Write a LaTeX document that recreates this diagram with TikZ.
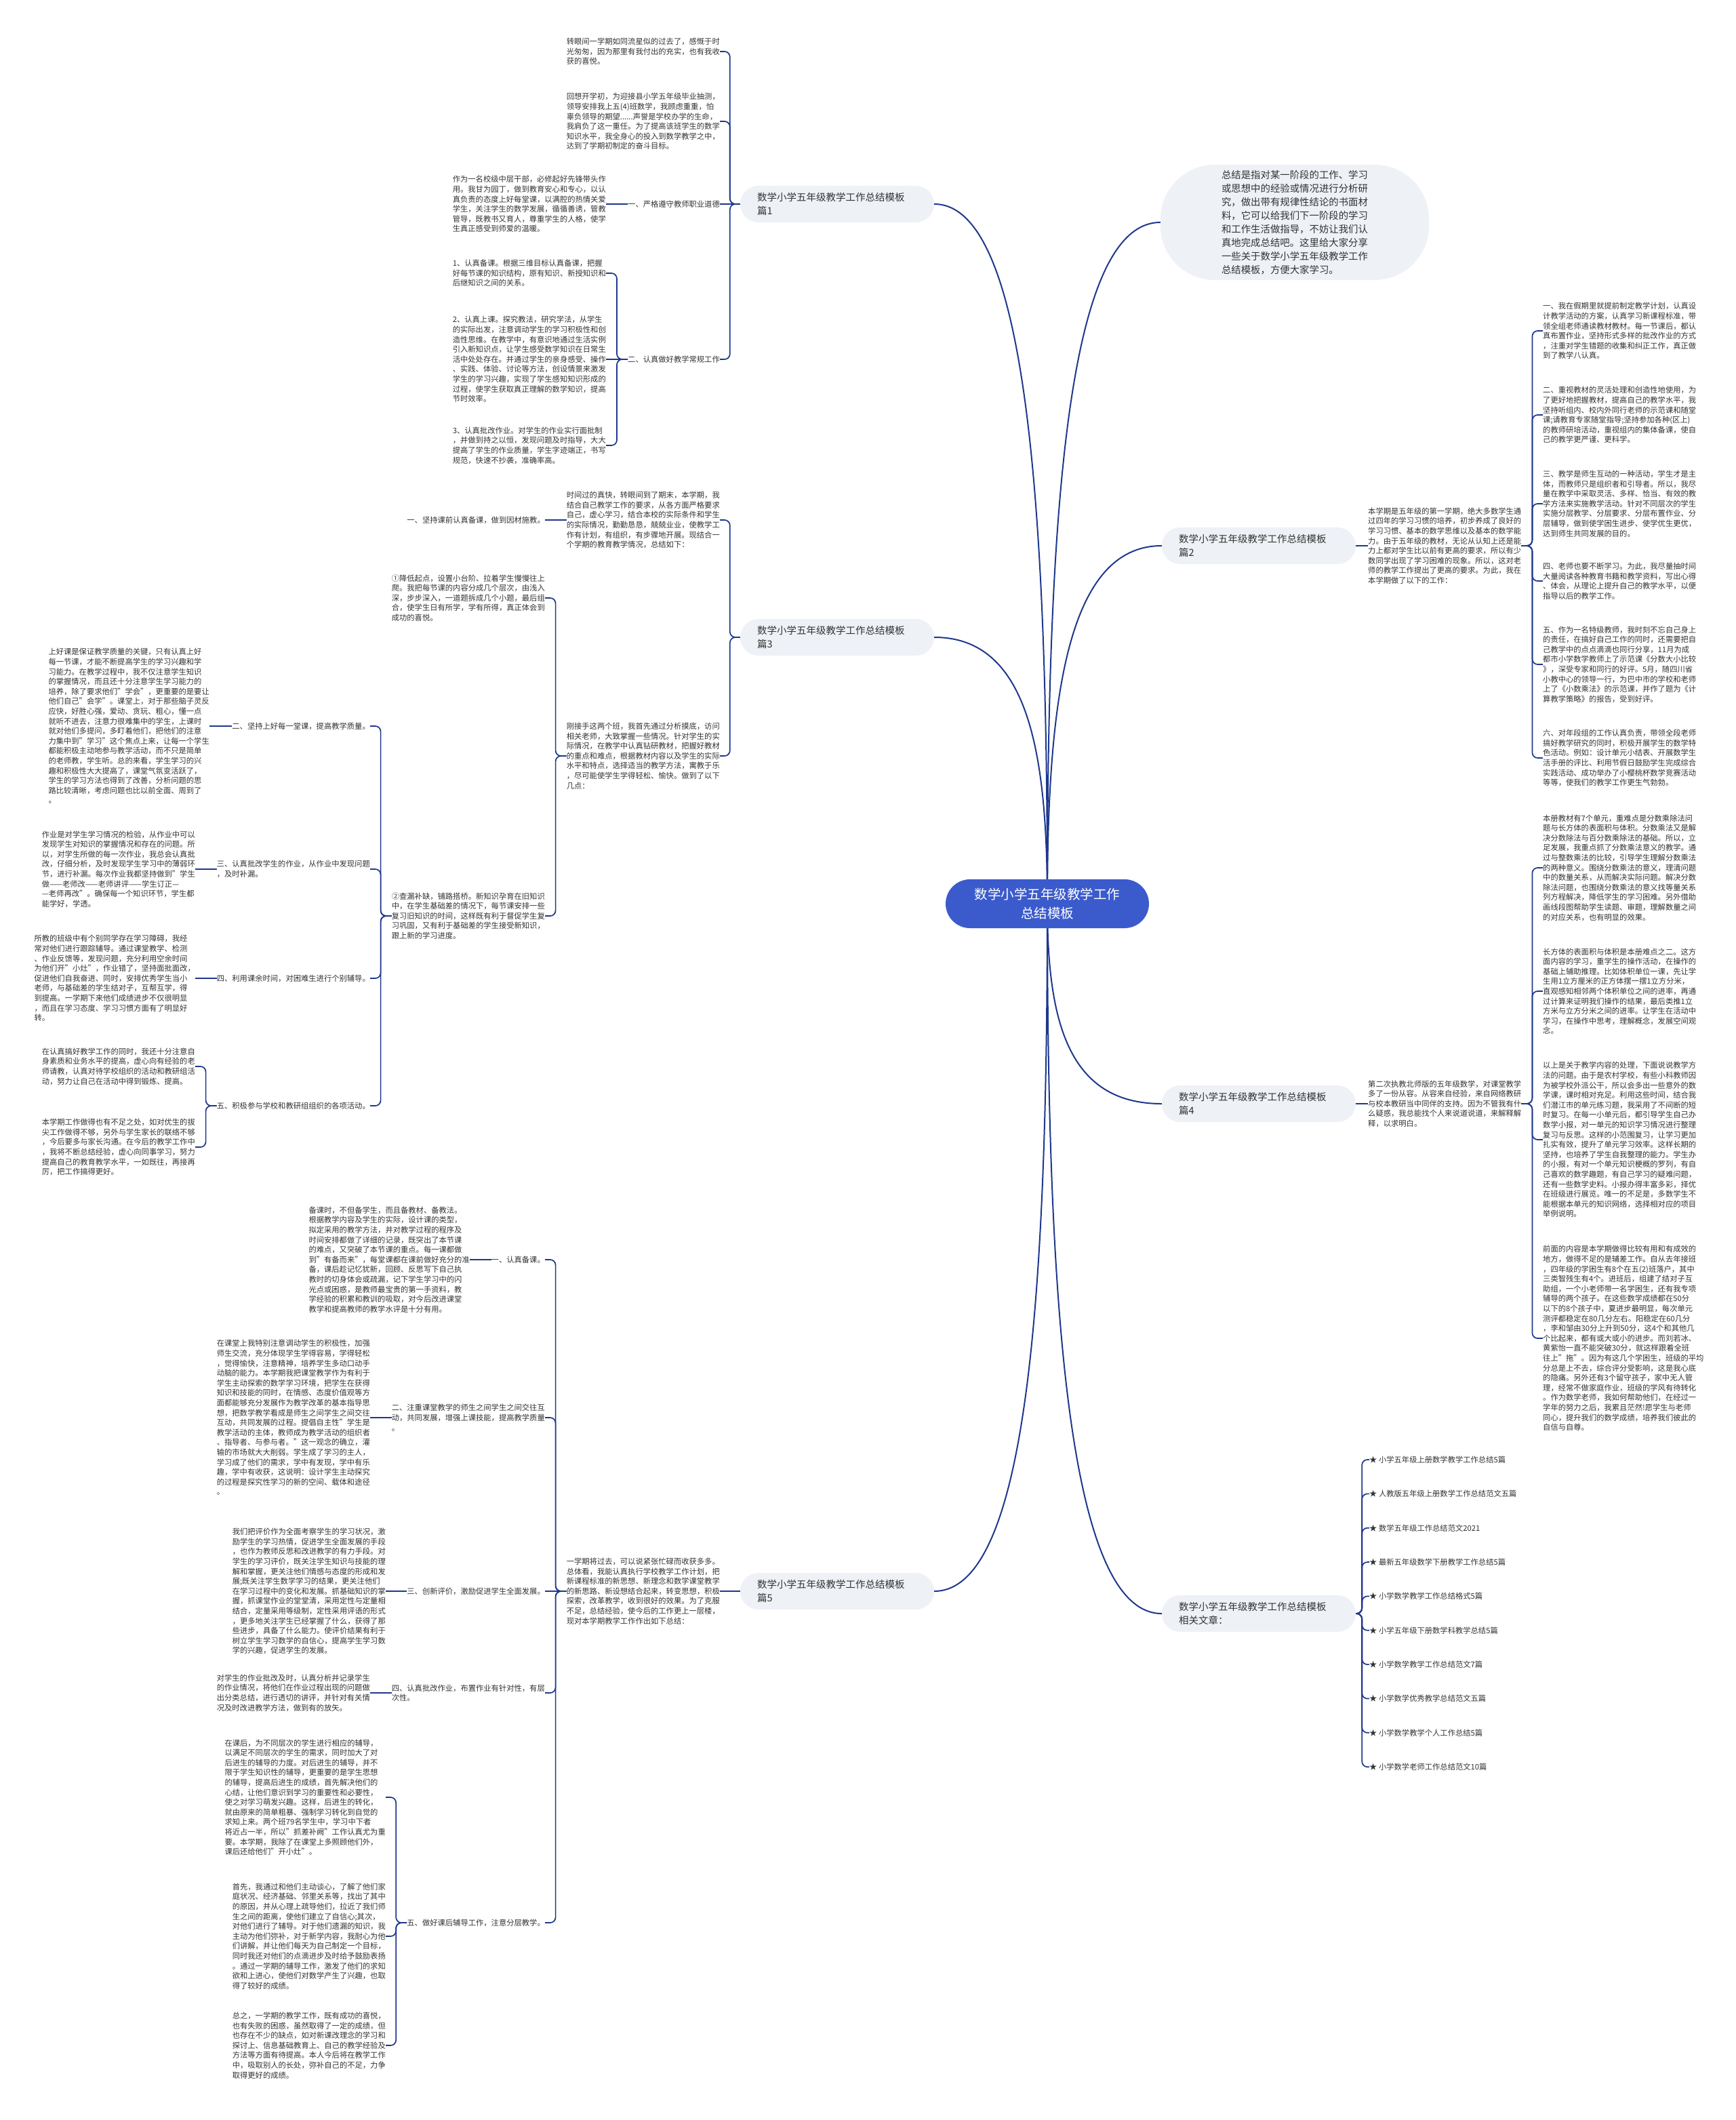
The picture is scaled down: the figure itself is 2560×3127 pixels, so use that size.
\documentclass[tikz,border=0pt]{standalone}
\usepackage{fontspec}
\setmainfont{Noto Sans CJK SC}
\usetikzlibrary{backgrounds}
\definecolor{linkblue}{RGB}{30,56,140}
\definecolor{rootblue}{RGB}{59,91,204}
\definecolor{pillgray}{RGB}{238,241,246}
\definecolor{inkgray}{RGB}{51,51,51}
\tikzset{
  txt/.style={font=\fontsize{11.3pt}{14.6pt}\selectfont,text=inkgray,align=left,inner sep=0pt},
  pill/.style={fill=pillgray,rounded corners=27pt,minimum width=286pt,minimum height=54pt,text width=236pt,inner xsep=25pt,inner ysep=0pt,align=left,text=inkgray,font=\fontsize{14.5pt}{20pt}\selectfont},
  root/.style={fill=rootblue,text=white,rounded corners=36pt,minimum width=300pt,minimum height=72pt,align=center,font=\fontsize{19.5pt}{28pt}\selectfont},
  limb/.style={draw=linkblue,line width=2pt},
  twig/.style={draw=linkblue,line width=1.7pt,rounded corners=8pt},
}
\begin{document}
\begin{tikzpicture}[x=1pt,y=-1pt]
  \useasboundingbox (0,0) rectangle (2560,3127);
  % centre and main branches
  \node[root] (ctr) at (1545,1333) {数学小学五年级教学工作\\总结模板};
  \node[pill] (b1) at (1235,301) {数学小学五年级教学工作总结模板\\篇1};
  \node[pill] (b3) at (1235,940) {数学小学五年级教学工作总结模板\\篇3};
  \node[pill] (b5) at (1235,2347) {数学小学五年级教学工作总结模板\\篇5};
  \node[pill] (b2) at (1857,805) {数学小学五年级教学工作总结模板\\篇2};
  \node[pill] (b4) at (1857,1628) {数学小学五年级教学工作总结模板\\篇4};
  \node[pill] (rel) at (1857,2380) {数学小学五年级教学工作总结模板\\相关文章：};
  \node[fill=pillgray,rounded corners=80pt,minimum width=396pt,minimum height=170pt,align=left,text=inkgray,font=\fontsize{14.4pt}{20pt}\selectfont] (sum) at (1910,328) {总结是指对某一阶段的工作、学习\\或思想中的经验或情况进行分析研\\究，做出带有规律性结论的书面材\\料，它可以给我们下一阶段的学习\\和工作生活做指导，不妨让我们认\\真地完成总结吧。这里给大家分享\\一些关于数学小学五年级教学工作\\总结模板，方便大家学习。};

  % 篇1
  \node[txt,anchor=east] (t1a) at (1062,76) {转眼间一学期如同流星似的过去了，感慨于时\\光匆匆，因为那里有我付出的充实，也有我收\\获的喜悦。};
  \node[txt,anchor=east] (t1b) at (1062,179) {回想开学初，为迎接县小学五年级毕业抽测，\\领导安排我上五(4)班数学，我顾虑重重，怕\\辜负领导的期望......声誉是学校办学的生命，\\我肩负了这一重任。为了提高该班学生的数学\\知识水平，我全身心的投入到数学教学之中，\\达到了学期初制定的奋斗目标。};
  \node[txt,anchor=east] (l1a) at (1062,301) {一、严格遵守教师职业道德};
  \node[txt,anchor=east] (l1b) at (1062,530) {二、认真做好教学常规工作};
  \node[txt,anchor=east] (t1c) at (894,301) {作为一名校级中层干部，必修起好先锋带头作\\用。我甘为园丁，做到教育安心和专心，以认\\真负责的态度上好每堂课，以满腔的热情关爱\\学生，关注学生的数学发展，循循善诱，管教\\管导，既教书又育人，尊重学生的人格，使学\\生真正感受到师爱的温暖。};
  \node[txt,anchor=east] (t1d) at (894,403) {1、认真备课。根据三维目标认真备课，把握\\好每节课的知识结构，原有知识、新授知识和\\后继知识之间的关系。};
  \node[txt,anchor=east] (t1e) at (894,530) {2、认真上课。探究教法，研究学法，从学生\\的实际出发，注意调动学生的学习积极性和创\\造性思维。在教学中，有意识地通过生活实例\\引入新知识点，让学生感受数学知识在日常生\\活中处处存在。并通过学生的亲身感受、操作\\、实践、体验、讨论等方法，创设情景来激发\\学生的学习兴趣，实现了学生感知知识形成的\\过程，使学生获取真正理解的数学知识，提高\\节时效率。};
  \node[txt,anchor=east] (t1f) at (894,657) {3、认真批改作业。对学生的作业实行面批制\\，并做到持之以恒，发现问题及时指导，大大\\提高了学生的作业质量，学生字迹端正，书写\\规范，快速不抄袭，准确率高。};

  % 篇3
  \node[txt,anchor=east] (t3a) at (1062,767) {时间过的真快，转眼间到了期末，本学期，我\\结合自己教学工作的要求，从各方面严格要求\\自己，虚心学习，结合本校的实际条件和学生\\的实际情况，勤勤恳恳，兢兢业业，使教学工\\作有计划，有组织，有步骤地开展。现结合一\\个学期的教育教学情况，总结如下：};
  \node[txt,anchor=east] (t3b) at (1062,1115) {刚接手这两个班，我首先通过分析摸底，访问\\相关老师，大致掌握一些情况。针对学生的实\\际情况，在教学中认真钻研教材，把握好教材\\的重点和难点，根据教材内容以及学生的实际\\水平和特点，选择适当的教学方法，寓教于乐\\，尽可能使学生学得轻松、愉快。做到了以下\\几点：};
  \node[txt,anchor=east] (l3a) at (804,767) {一、坚持课前认真备课，做到因材施教。};
  \node[txt,anchor=east] (t3c) at (804,882) {①降低起点，设置小台阶、拉着学生慢慢往上\\爬。我把每节课的内容分成几个层次，由浅入\\深，步步深入，一道题拆成几个小题，最后组\\合，使学生日有所学，学有所得，真正体会到\\成功的喜悦。};
  \node[txt,anchor=east] (t3d) at (804,1351) {②查漏补缺，铺路搭桥。新知识孕育在旧知识\\中，在学生基础差的情况下，每节课安排一些\\复习旧知识的时间，这样既有利于督促学生复\\习巩固，又有利于基础差的学生接受新知识，\\跟上新的学习进度。};
  \node[txt,anchor=east] (l3b) at (546,1071) {二、坚持上好每一堂课，提高教学质量。};
  \node[txt,anchor=east] (l3c) at (546,1282) {三、认真批改学生的作业，从作业中发现问题\\，及时补漏。};
  \node[txt,anchor=east] (l3d) at (546,1443) {四、利用课余时间，对困难生进行个别辅导。};
  \node[txt,anchor=east] (l3e) at (546,1631) {五、积极参与学校和教研组组织的各项活动。};
  \node[txt,anchor=east] (t3e) at (309,1071) {上好课是保证教学质量的关键，只有认真上好\\每一节课，才能不断提高学生的学习兴趣和学\\习能力。在教学过程中，我不仅注意学生知识\\的掌握情况，而且还十分注意学生学习能力的\\培养，除了要求他们"学会"，更重要的是要让\\他们自己"会学"。课堂上，对于那些脑子灵反\\应快，好胜心强，爱动、贪玩、粗心，懂一点\\就听不进去，注意力很难集中的学生，上课时\\就对他们多提问，多盯着他们，把他们的注意\\力集中到"学习"这个焦点上来，让每一个学生\\都能积极主动地参与教学活动，而不只是简单\\的老师教，学生听。总的来看，学生学习的兴\\趣和积极性大大提高了，课堂气氛变活跃了，\\学生的学习方法也得到了改善，分析问题的思\\路比较清晰，考虑问题也比以前全面、周到了\\。};
  \node[txt,anchor=east] (t3f) at (288,1282) {作业是对学生学习情况的检验，从作业中可以\\发现学生对知识的掌握情况和存在的问题。所\\以，对学生所做的每一次作业，我总会认真批\\改，仔细分析，及时发现学生学习中的薄弱环\\节，进行补漏。每次作业我都坚持做到"学生\\做——老师改——老师讲评——学生订正—\\—老师再改"。确保每一个知识环节，学生都\\能学好，学透。};
  \node[txt,anchor=east] (t3g) at (288,1443) {所教的班级中有个别同学存在学习障碍，我经\\常对他们进行跟踪辅导。通过课堂教学、检测\\、作业反馈等，发现问题，充分利用空余时间\\为他们开"小灶"，作业错了，坚持面批面改，\\促进他们自我奋进、同时，安排优秀学生当小\\老师，与基础差的学生结对子，互帮互学，得\\到提高。一学期下来他们成绩进步不仅很明显\\，而且在学习态度、学习习惯方面有了明显好\\转。};
  \node[txt,anchor=east] (t3h) at (288,1573) {在认真搞好教学工作的同时，我还十分注意自\\身素质和业务水平的提高，虚心向有经验的老\\师请教，认真对待学校组织的活动和教研组活\\动，努力让自己在活动中得到锻炼、提高。};
  \node[txt,anchor=east] (t3i) at (288,1692) {本学期工作做得也有不足之处，如对优生的拔\\尖工作做得不够，另外与学生家长的联络不够\\，今后要多与家长沟通。在今后的教学工作中\\，我将不断总结经验，虚心向同事学习，努力\\提高自己的教育教学水平，一如既往，再接再\\厉，把工作搞得更好。};

  % 篇5
  \node[txt,anchor=east] (t5a) at (1062,2347) {一学期将过去，可以说紧张忙碌而收获多多。\\总体看，我能认真执行学校教学工作计划，把\\新课程标准的新思想、新理念和数学课堂教学\\的新思路、新设想结合起来，转变思想，积极\\探索，改革教学，收到很好的效果。为了克服\\不足，总结经验，使今后的工作更上一层楼，\\现对本学期教学工作作出如下总结：};
  \node[txt,anchor=east] (l5a) at (804,1858) {一、认真备课。};
  \node[txt,anchor=east] (l5b) at (804,2091) {二、注重课堂教学的师生之间学生之间交往互\\动，共同发展，增强上课技能，提高教学质量\\。};
  \node[txt,anchor=east] (l5c) at (804,2347) {三、创新评价，激励促进学生全面发展。};
  \node[txt,anchor=east] (l5d) at (804,2497) {四、认真批改作业，布置作业有针对性，有层\\次性。};
  \node[txt,anchor=east] (l5e) at (804,2836) {五、做好课后辅导工作，注意分层教学。};
  \node[txt,anchor=east] (t5b) at (693,1858) {备课时，不但备学生，而且备教材、备教法。\\根据教学内容及学生的实际，设计课的类型，\\拟定采用的教学方法，并对教学过程的程序及\\时间安排都做了详细的记录，既突出了本节课\\的难点，又突破了本节课的重点。每一课都做\\到"有备而来"，每堂课都在课前做好充分的准\\备，课后趁记忆犹新，回顾、反思写下自己执\\教时的切身体会或疏漏，记下学生学习中的闪\\光点或困惑，是教师最宝贵的第一手资料，教\\学经验的积累和教训的吸取，对今后改进课堂\\教学和提高教师的教学水评是十分有用。};
  \node[txt,anchor=east] (t5c) at (546,2091) {在课堂上我特别注意调动学生的积极性，加强\\师生交流，充分体现学生学得容易，学得轻松\\，觉得愉快，注意精神，培养学生多动口动手\\动脑的能力。本学期我把课堂教学作为有利于\\学生主动探索的数学学习环境，把学生在获得\\知识和技能的同时，在情感、态度价值观等方\\面都能够充分发展作为教学改革的基本指导思\\想，把数学教学看成是师生之间学生之间交往\\互动，共同发展的过程。提倡自主性"学生是\\教学活动的主体，教师成为教学活动的组织者\\、指导者、与参与者。"这一观念的确立，灌\\输的市场就大大削弱。学生成了学习的主人，\\学习成了他们的需求，学中有发现，学中有乐\\趣，学中有收获，这说明：设计学生主动探究\\的过程是探究性学习的新的空间、载体和途径\\。};
  \node[txt,anchor=east] (t5d) at (569,2347) {我们把评价作为全面考察学生的学习状况，激\\励学生的学习热情，促进学生全面发展的手段\\，也作为教师反思和改进教学的有力手段。对\\学生的学习评价，既关注学生知识与技能的理\\解和掌握，更关注他们情感与态度的形成和发\\展;既关注学生数学学习的结果，更关注他们\\在学习过程中的变化和发展。抓基础知识的掌\\握，抓课堂作业的堂堂清，采用定性与定量相\\结合，定量采用等级制，定性采用评语的形式\\，更多地关注学生已经掌握了什么，获得了那\\些进步，具备了什么能力。使评价结果有利于\\树立学生学习数学的自信心，提高学生学习数\\学的兴趣，促进学生的发展。};
  \node[txt,anchor=east] (t5e) at (546,2497) {对学生的作业批改及时，认真分析并记录学生\\的作业情况，将他们在作业过程出现的问题做\\出分类总结，进行透切的讲评，并针对有关情\\况及时改进教学方法，做到有的放矢。};
  \node[txt,anchor=east] (t5f) at (569,2651) {在课后，为不同层次的学生进行相应的辅导，\\以满足不同层次的学生的需求，同时加大了对\\后进生的辅导的力度。对后进生的辅导，并不\\限于学生知识性的辅导，更重要的是学生思想\\的辅导，提高后进生的成绩，首先解决他们的\\心结，让他们意识到学习的重要性和必要性，\\使之对学习萌发兴趣。这样，后进生的转化，\\就由原来的简单粗暴、强制学习转化到自觉的\\求知上来。两个班79名学生中，学习中下者\\将近占一半，所以"抓差补阙"工作认真尤为重\\要。本学期，我除了在课堂上多照顾他们外，\\课后还给他们"开小灶"。};
  \node[txt,anchor=east] (t5g) at (569,2856) {首先，我通过和他们主动谈心，了解了他们家\\庭状况、经济基础、邻里关系等，找出了其中\\的原因，并从心理上疏导他们，拉近了我们师\\生之间的距离，使他们建立了自信心;其次，\\对他们进行了辅导。对于他们遗漏的知识，我\\主动为他们弥补，对于新学内容，我耐心为他\\们讲解，并让他们每天为自己制定一个目标，\\同时我还对他们的点滴进步及时给予鼓励表扬\\。通过一学期的辅导工作，激发了他们的求知\\欲和上进心，使他们对数学产生了兴趣，也取\\得了较好的成绩。};
  \node[txt,anchor=east] (t5h) at (569,3017) {总之，一学期的教学工作，既有成功的喜悦，\\也有失败的困惑，虽然取得了一定的成绩，但\\也存在不少的缺点，如对新课改理念的学习和\\探讨上、信息基础教育上、自己的教学经验及\\方法等方面有待提高。本人今后将在教学工作\\中，吸取别人的长处，弥补自己的不足，力争\\取得更好的成绩。};

  % 篇2
  \node[txt,anchor=west] (t2a) at (2018,805) {本学期是五年级的第一学期，绝大多数学生通\\过四年的学习习惯的培养，初步养成了良好的\\学习习惯、基本的数学思维以及基本的数学能\\力。由于五年级的教材，无论从认知上还是能\\力上都对学生比以前有更高的要求，所以有少\\数同学出现了学习困难的现象。所以，这对老\\师的教学工作提出了更高的要求。为此，我在\\本学期做了以下的工作：};
  \node[txt,anchor=west] (t2b) at (2276,488) {一、我在假期里就提前制定教学计划，认真设\\计教学活动的方案，认真学习新课程标准，带\\领全组老师通读教材教材。每一节课后，都认\\真布置作业，坚持形式多样的批改作业的方式\\，注重对学生错题的收集和纠正工作，真正做\\到了教学八认真。};
  \node[txt,anchor=west] (t2c) at (2276,612) {二、重视教材的灵活处理和创造性地使用，为\\了更好地把握教材，提高自己的教学水平，我\\坚持听组内、校内外同行老师的示范课和随堂\\课;请教育专家随堂指导;坚持参加各种(区上)\\的教师研培活动，重视组内的集体备课，使自\\己的教学更严谨、更科学。};
  \node[txt,anchor=west] (t2d) at (2276,743) {三、教学是师生互动的一种活动，学生才是主\\体，而教师只是组织者和引导者。所以，我尽\\量在教学中采取灵活、多样、恰当、有效的教\\学方法来实施教学活动。针对不同层次的学生\\实施分层教学、分层要求、分层布置作业、分\\层辅导，做到使学困生进步、使学优生更优，\\达到师生共同发展的目的。};
  \node[txt,anchor=west] (t2e) at (2276,857) {四、老师也要不断学习。为此，我尽量抽时间\\大量阅读各种教育书籍和教学资料，写出心得\\、体会，从理论上提升自己的教学水平，以便\\指导以后的教学工作。};
  \node[txt,anchor=west] (t2f) at (2276,980) {五、作为一名特级教师，我时刻不忘自己身上\\的责任，在搞好自己工作的同时，还需要把自\\己教学中的点点滴滴也同行分享，11月为成\\都市小学数学教师上了示范课《分数大小比较\\》，深受专家和同行的好评。5月，随四川省\\小教中心的领导一行，为巴中市的学校和老师\\上了《小数乘法》的示范课，并作了题为《计\\算教学策略》的报告，受到好评。};
  \node[txt,anchor=west] (t2g) at (2276,1118) {六、对年段组的工作认真负责，带领全段老师\\搞好教学研究的同时，积极开展学生的数学特\\色活动。例如：设计单元小结表、开展数学生\\活手册的评比、利用节假日鼓励学生完成综合\\实践活动、成功举办了小樱桃杯数学竞赛活动\\等等，使我们的教学工作更生气勃勃。};

  % 篇4
  \node[txt,anchor=west] (t4p) at (2018,1628) {第二次执教北师版的五年级数学，对课堂教学\\多了一份从容。从容来自经验，来自网络教研\\与校本教研当中同伴的支持。因为不管我有什\\么疑惑，我总能找个人来说道说道，来解释解\\释，以求明白。};
  \node[txt,anchor=west] (t4a) at (2276,1280) {本册教材有7个单元，重难点是分数乘除法问\\题与长方体的表面积与体积。分数乘法又是解\\决分数除法与百分数乘除法的基础。所以，立\\足发展，我重点抓了分数乘法意义的教学。通\\过与整数乘法的比较，引导学生理解分数乘法\\的两种意义。围绕分数乘法的意义，理清问题\\中的数量关系，从而解决实际问题。解决分数\\除法问题，也围绕分数乘法的意义找等量关系\\列方程解决，降低学生的学习困难。另外借助\\画线段图帮助学生读题、审题，理解数量之间\\的对应关系，也有明显的效果。};
  \node[txt,anchor=west] (t4b) at (2276,1462) {长方体的表面积与体积是本册难点之二。这方\\面内容的学习，重学生的操作活动，在操作的\\基础上辅助推理。比如体积单位一课，先让学\\生用1立方厘米的正方体摆一摆1立方分米，\\直观感知相邻两个体积单位之间的进率，再通\\过计算来证明我们操作的结果，最后类推1立\\方米与立方分米之间的进率。让学生在活动中\\学习，在操作中思考，理解概念，发展空间观\\念。};
  \node[txt,anchor=west] (t4c) at (2276,1681) {以上是关于教学内容的处理，下面说说教学方\\法的问题。由于是农村学校，有些小科教师因\\为被学校外派公干，所以会多出一些意外的数\\学课，课时相对充足。利用这些时间，结合我\\们潜江市的单元练习题，我采用了不间断的短\\时复习。在每一小单元后，都引导学生自己办\\数学小报，对一单元的知识学习情况进行整理\\复习与反思。这样的小范围复习，让学习更加\\扎实有效，提升了单元学习效率。这样长期的\\坚持，也培养了学生自我整理的能力。学生办\\的小报，有对一个单元知识梗概的罗列，有自\\己喜欢的数学趣题，有自己学习的疑难问题，\\还有一些数学史料。小报办得丰富多彩，择优\\在班级进行展览。唯一的不足是，多数学生不\\能根据本单元的知识网络，选择相对应的项目\\举例说明。};
  \node[txt,anchor=west] (t4d) at (2276,1974) {前面的内容是本学期做得比较有用和有成效的\\地方，做得不足的是辅差工作。自从去年接班\\，四年级的学困生有8个在五(2)班落户，其中\\三类智残生有4个。进班后，组建了结对子互\\助组，一个小老师带一名学困生，还有我专项\\辅导的两个孩子。在这些数学成绩都在50分\\以下的8个孩子中，夏进步最明显，每次单元\\测评都稳定在80几分左右。阳稳定在60几分\\，李和邹由30分上升到50分，这4个和其他几\\个比起来，都有或大或小的进步。而刘若冰、\\黄紫怡一直不能突破30分，就这样跟着全班\\往上"拖"。因为有这几个学困生，班级的平均\\分总是上不去，综合评分受影响，这是我心底\\的隐痛。另外还有3个留守孩子，家中无人管\\理，经常不做家庭作业，班级的学风有待转化\\。作为数学老师，我如何帮助他们，在经过一\\学年的努力之后，我累且茫然!愿学生与老师\\同心，提升我们的数学成绩，培养我们彼此的\\自信与自尊。};

  % related articles
  \foreach \t [count=\i] in {小学五年级上册数学教学工作总结5篇,人教版五年级上册数学工作总结范文五篇,数学五年级工作总结范文2021,最新五年级数学下册教学工作总结5篇,小学数学教学工作总结格式5篇,小学五年级下册数学科教学总结5篇,小学数学教学工作总结范文7篇,小学数学优秀教学总结范文五篇,小学数学教学个人工作总结5篇,小学数学老师工作总结范文10篇}
    \node[txt,anchor=west] (r\i) at (2020,{2153+50.35*(\i-1)}) {★ \t};

  % connectors
  \draw[twig] (b1.west) -- (l1a.east);
  \foreach \c in {t1a,t1b,l1b} \draw[twig] (b1.west) -- ++(-15,0) |- (\c.east);
  \draw[twig] (l1a.west) -- (t1c.east);
  \draw[twig] (l1b.west) -- (t1e.east);
  \foreach \c in {t1d,t1f} \draw[twig] (l1b.west) -- ++(-16,0) |- (\c.east);
  \foreach \c in {t3a,t3b} \draw[twig] (b3.west) -- ++(-15,0) |- (\c.east);
  \draw[twig] (t3a.west) -- (l3a.east);
  \foreach \c in {t3c,t3d} \draw[twig] (t3b.west) -- ++(-16,0) |- (\c.east);
  \foreach \c in {l3b,l3c,l3d,l3e} \draw[twig] (t3d.west) -- ++(-16,0) |- (\c.east);
  \draw[twig] (l3b.west) -- (t3e.east);
  \draw[twig] (l3c.west) -- (t3f.east);
  \draw[twig] (l3d.west) -- (t3g.east);
  \foreach \c in {t3h,t3i} \draw[twig] (l3e.west) -- ++(-16,0) |- (\c.east);
  \draw[twig] (b5.west) -- (t5a.east);
  \draw[twig] (t5a.west) -- (l5c.east);
  \foreach \c in {l5a,l5b,l5d,l5e} \draw[twig] (t5a.west) -- ++(-16,0) |- (\c.east);
  \draw[twig] (l5a.west) -- (t5b.east);
  \draw[twig] (l5b.west) -- (t5c.east);
  \draw[twig] (l5c.west) -- (t5d.east);
  \draw[twig] (l5d.west) -- (t5e.east);
  \foreach \c in {t5f,t5g,t5h} \draw[twig] (l5e.west) -- ++(-16,0) |- (\c.east);
  \draw[twig] (b2.east) -- (t2a.west);
  \foreach \c in {t2b,t2c,t2d,t2e,t2f,t2g} \draw[twig] (t2a.east) -- ++(16,0) |- (\c.west);
  \draw[twig] (b4.east) -- (t4p.west);
  \foreach \c in {t4a,t4b,t4c,t4d} \draw[twig] (t4p.east) -- ++(16,0) |- (\c.west);
  \foreach \i in {1,...,10} \draw[twig] (rel.east) -- ++(9,0) |- (r\i.west);

  \begin{scope}[on background layer]
    \fill[white] (0,0) rectangle (2560,3127);
    \draw[limb] (ctr.center) .. controls +(0,-560) and +(140,0) .. (b1.east);
    \draw[limb] (ctr.center) .. controls +(0,-220) and +(140,0) .. (b3.east);
    \draw[limb] (ctr.center) .. controls +(0,560) and +(140,0) .. (b5.east);
    \draw[limb] (ctr.center) .. controls +(0,-560) and +(-140,0) .. (sum.west);
    \draw[limb] (ctr.center) .. controls +(0,-300) and +(-140,0) .. (b2.west);
    \draw[limb] (ctr.center) .. controls +(0,170) and +(-140,0) .. (b4.west);
    \draw[limb] (ctr.center) .. controls +(0,580) and +(-140,0) .. (rel.west);
  \end{scope}
\end{tikzpicture}
\end{document}
